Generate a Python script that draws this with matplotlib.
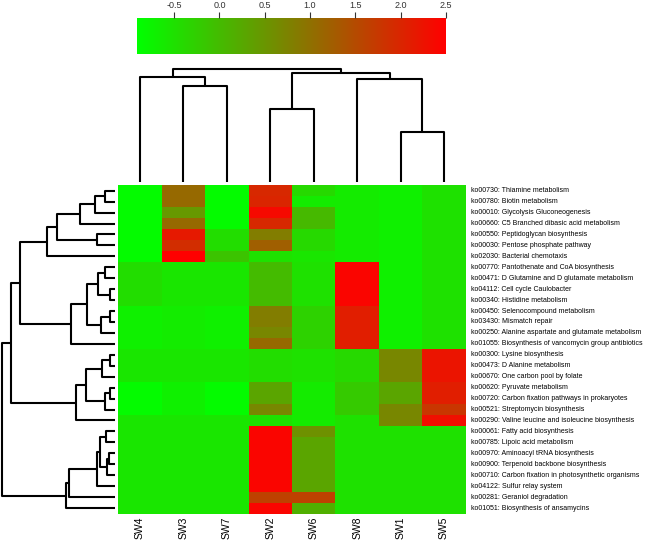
import numpy as np
import matplotlib
matplotlib.use("Agg")
import matplotlib.pyplot as plt
from matplotlib.colors import LinearSegmentedColormap, Normalize
from matplotlib.cm import ScalarMappable

plt.rcParams['font.family'] = ['Liberation Sans', 'DejaVu Sans']

# ---------------- data ----------------
col_labels = ["SW4", "SW3", "SW7", "SW2", "SW6", "SW8", "SW1", "SW5"]

row_labels = [
    "ko00730: Thiamine metabolism",
    "ko00780: Biotin metabolism",
    "ko00010: Glycolysis Gluconeogenesis",
    "ko00660: C5 Branched dibasic acid metabolism",
    "ko00550: Peptidoglycan biosynthesis",
    "ko00030: Pentose phosphate pathway",
    "ko02030: Bacterial chemotaxis",
    "ko00770: Pantothenate and CoA biosynthesis",
    "ko00471: D Glutamine and D glutamate metabolism",
    "ko04112: Cell cycle Caulobacter",
    "ko00340: Histidine metabolism",
    "ko00450: Selenocompound metabolism",
    "ko03430: Mismatch repair",
    "ko00250: Alanine aspartate and glutamate metabolism",
    "ko01055: Biosynthesis of vancomycin group antibiotics",
    "ko00300: Lysine biosynthesis",
    "ko00473: D Alanine metabolism",
    "ko00670: One carbon pool by folate",
    "ko00620: Pyruvate metabolism",
    "ko00720: Carbon fixation pathways in prokaryotes",
    "ko00521: Streptomycin biosynthesis",
    "ko00290: Valine leucine and isoleucine biosynthesis",
    "ko00061: Fatty acid biosynthesis",
    "ko00785: Lipoic acid metabolism",
    "ko00970: Aminoacyl tRNA biosynthesis",
    "ko00900: Terpenoid backbone biosynthesis",
    "ko00710: Carbon fixation in photosynthetic organisms",
    "ko04122: Sulfur relay system",
    "ko00281: Geraniol degradation",
    "ko01051: Biosynthesis of ansamycins",
]

# values per column (top row to bottom row)
sw4 = [-0.85, -0.85, -0.85, -0.85, -0.85, -0.85, -0.85,
       -0.45, -0.45, -0.45, -0.45, -0.70, -0.70, -0.70, -0.70,
       -0.57, -0.57, -0.57, -0.85, -0.85, -0.85, -0.57,
       -0.57, -0.57, -0.57, -0.57, -0.57, -0.57, -0.57, -0.57]
sw3 = [1.10, 1.10, 0.45, 1.10, 2.16, 1.90, 2.50,
       -0.57, -0.57, -0.57, -0.57, -0.65, -0.65, -0.65, -0.65,
       -0.57, -0.57, -0.57, -0.70, -0.70, -0.70, -0.57,
       -0.57, -0.57, -0.57, -0.57, -0.57, -0.57, -0.57, -0.57]
sw7 = [-0.85, -0.85, -0.85, -0.85, -0.45, -0.45, -0.12,
       -0.57, -0.57, -0.57, -0.57, -0.70, -0.70, -0.70, -0.70,
       -0.57, -0.57, -0.57, -0.85, -0.85, -0.85, -0.57,
       -0.57, -0.57, -0.57, -0.57, -0.57, -0.57, -0.57, -0.57]
sw2 = [1.96, 2.00, 2.37, 1.96, 0.83, 1.23, -0.50,
       0.00, 0.00, 0.00, 0.00, 0.83, 0.83, 0.70, 1.10,
       -0.45, -0.45, -0.45, 0.30, 0.30, 0.70, -0.50,
       2.43, 2.43, 2.43, 2.43, 2.43, 2.43, 1.63, 2.43]
sw6 = [-0.40, -0.64, 0.03, 0.03, -0.40, -0.40, -0.57,
       -0.50, -0.50, -0.50, -0.50, -0.30, -0.30, -0.30, -0.30,
       -0.50, -0.50, -0.50, -0.64, -0.64, -0.64, -0.64,
       0.56, 0.30, 0.30, 0.30, 0.30, 0.30, 1.63, 0.16]
sw8 = [-0.64, -0.64, -0.64, -0.64, -0.64, -0.64, -0.64,
       2.43, 2.43, 2.43, 2.43, 2.10, 2.10, 2.10, 2.10,
       -0.40, -0.40, -0.40, -0.20, -0.20, -0.20, -0.50,
       -0.50, -0.50, -0.50, -0.50, -0.50, -0.50, -0.50, -0.50]
sw1 = [-0.70, -0.70, -0.70, -0.70, -0.70, -0.70, -0.70,
       -0.70, -0.70, -0.70, -0.70, -0.70, -0.70, -0.70, -0.70,
       0.70, 0.70, 0.70, 0.30, 0.30, 0.70, 0.70,
       -0.50, -0.50, -0.50, -0.50, -0.50, -0.50, -0.50, -0.50]
sw5 = [-0.50, -0.50, -0.50, -0.50, -0.50, -0.50, -0.50,
       -0.50, -0.50, -0.50, -0.50, -0.50, -0.50, -0.50, -0.50,
       2.23, 2.23, 2.23, 2.10, 2.10, 1.77, 2.30,
       -0.50, -0.50, -0.50, -0.50, -0.50, -0.50, -0.50, -0.50]

vmin, vmax = -0.91, 2.5
cbar_ticks = [-0.5, 0.0, 0.5, 1.0, 1.5, 2.0, 2.5]

# dendrograms: (left, right, height); ints are leaf indices in display order
row_A = (((((0, 1, 9.5), 2, 20), 3, 35), (4, 5, 17.7), 58.3), 6, 67.7)
row_B = ((((7, 8, 9.7), (9, 10, 5), 16.7), ((11, 12, 5), 13, 14), 28.3), 14, 44.3)
row_C = ((((15, 16, 5), 17, 13.3), ((18, 19, 5), 20, 10), 29), 21, 39)
row_D = (((((22, 23, 9), ((24, 25, 5.7), 26, 7.7), 15), 27, 17.7), 28, 45.7), 29, 49)
row_tree = (((row_A, row_B, 95), row_C, 104), row_D, 113.3)

col_tree = ((0, (1, 2, 96.3), 105.3),
            ((3, 4, 72.7), (5, (6, 7, 50.3), 102.7), 109.3), 112.7)

# ---------------- figure ----------------
W, H = 647, 542
fig = plt.figure(figsize=(W / 100, H / 100), dpi=100)


def px_axes(x0, y0, x1, y1):
    return fig.add_axes([x0 / W, 1 - y1 / H, (x1 - x0) / W, (y1 - y0) / H])


cmap = LinearSegmentedColormap.from_list("gr", ["#00FF00", "#FF0000"])
norm = Normalize(vmin=vmin, vmax=vmax)

data = np.array([sw4, sw3, sw7, sw2, sw6, sw8, sw1, sw5]).T
nrow, ncol = data.shape

hx0, hx1 = 118.2, 465.8
hy0, hy1 = 185.2, 513.5

# heatmap
ax = px_axes(hx0, hy0, hx1, hy1)
ax.pcolormesh(np.arange(ncol + 1), np.arange(nrow + 1), data, cmap=cmap, norm=norm)
ax.set_xlim(0, ncol)
ax.set_ylim(nrow, 0)
ax.axis("off")
for i, lab in enumerate(row_labels):
    ax.text(ncol + 0.12, i + 0.5, lab, fontsize=5.05, va="center", ha="left")
for j, lab in enumerate(col_labels):
    ax.text(j + 0.5, nrow + 0.3, lab, fontsize=7.5, rotation=90, va="top", ha="center")


def draw_tree(axd, node, orient):
    if isinstance(node, int):
        return node + 0.5, 0.0
    l, r, h = node
    pl, hl = draw_tree(axd, l, orient)
    pr, hr = draw_tree(axd, r, orient)
    ps = [pl, pl, pr, pr]
    hs = [hl, h, h, hr]
    if orient == "top":
        axd.plot(ps, hs, color="black", lw=1.5, clip_on=False, solid_capstyle="butt")
    else:
        axd.plot(hs, ps, color="black", lw=1.5, clip_on=False, solid_capstyle="butt")
    return (pl + pr) / 2, h


# column dendrogram
axc = px_axes(hx0, 69.3, hx1, 182)
draw_tree(axc, col_tree, "top")
axc.set_xlim(0, ncol)
axc.set_ylim(0, 112.7)
axc.axis("off")

# row dendrogram
axr = px_axes(1.7, hy0, 115, hy1)
draw_tree(axr, row_tree, "left")
axr.set_xlim(113.3, 0)
axr.set_ylim(nrow, 0)
axr.axis("off")

# colour key
axk = px_axes(137, 18, 446, 54)
cb = fig.colorbar(ScalarMappable(norm=norm, cmap=cmap), cax=axk, orientation="horizontal",
                  ticks=cbar_ticks)
cb.outline.set_visible(False)
axk.xaxis.set_ticks_position("top")
axk.xaxis.set_label_position("top")
axk.tick_params(axis="x", length=4, width=0.8, labelsize=6.5, pad=2, colors="#333333")
axk.set_xticklabels(["-0.5", "0.0", "0.5", "1.0", "1.5", "2.0", "2.5"])

fig.savefig("out.png", dpi=100)
